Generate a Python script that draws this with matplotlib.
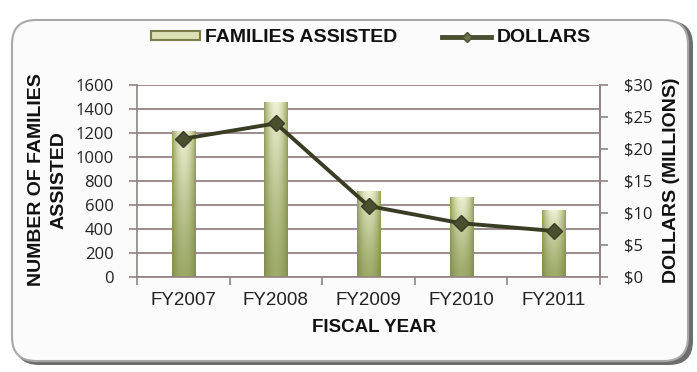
import numpy as np
import matplotlib
matplotlib.use("Agg")
import matplotlib.pyplot as plt
from matplotlib.patches import FancyBboxPatch, Patch
from matplotlib.lines import Line2D
from matplotlib.transforms import IdentityTransform

# ---- data ----
fiscal_years = ["FY2007", "FY2008", "FY2009", "FY2010", "FY2011"]
families_assisted = [1220, 1460, 720, 670, 560]
dollars_millions = [21.6, 24.0, 11.1, 8.4, 7.2]
family_ticks = [0, 200, 400, 600, 800, 1000, 1200, 1400, 1600]
dollar_ticks = [0, 5, 10, 15, 20, 25, 30]
dollar_tick_labels = ["$0", "$5", "$10", "$15", "$20", "$25", "$30"]

W, H = 697, 372
fig = plt.figure(figsize=(W / 100, H / 100), dpi=100)
fig.patch.set_facecolor("white")

# rounded panel with a soft drop shadow (pixel coordinates)
pix = IdentityTransform()
shadow = FancyBboxPatch((15, H - 365), 678, 344,
                        boxstyle="round,pad=0,rounding_size=24",
                        transform=pix, facecolor="#6e6e6e", edgecolor="none",
                        zorder=0)
panel = FancyBboxPatch((12, H - 361), 676, 341,
                       boxstyle="round,pad=0,rounding_size=24",
                       transform=pix, facecolor="#fbfbfb", edgecolor="#a8a8a8",
                       linewidth=1.5, zorder=0.5)
fig.patches.extend([shadow, panel])

ax = fig.add_axes([137 / W, 1 - 277 / H, (600 - 137) / W, (277 - 85) / H])
ax.set_facecolor("white")
ax.set_zorder(1)

grid_col = "#9d8b8b"
spine_col = "#8e8484"
tick_font = "Open Sans"
bold_font = "Liberation Sans"

x = np.arange(len(fiscal_years))
bars = ax.bar(x, families_assisted, width=0.25, color="none", edgecolor="none",
              zorder=2)

# cylinder-like shading for each column
nx, ny = 64, 128
u = np.linspace(0, 1, nx)
v = np.linspace(0, 1, ny)[:, None]          # 0 bottom -> 1 top
prof = np.clip(np.sin(np.pi * u) ** 0.8, 0, 1)[None, :]
top_c = np.array([0.94, 0.95, 0.84])
top_e = np.array([0.58, 0.62, 0.34])
bot_c = np.array([0.62, 0.67, 0.41])
bot_e = np.array([0.50, 0.55, 0.30])
t = (v ** 1.3)[..., None]
center = bot_c * (1 - t) + top_c * t
edge = bot_e * (1 - t) + top_e * t
grad = edge * (1 - prof[..., None]) + center * prof[..., None]
grad = np.flipud(grad)

for rect in bars:
    x0, y0 = rect.get_x(), rect.get_y()
    w, h = rect.get_width(), rect.get_height()
    im = ax.imshow(grad, extent=(x0, x0 + w, y0, y0 + h), aspect="auto",
                   interpolation="bilinear", zorder=2)
    im.set_clip_path(rect)

ax.set_xlim(-0.5, len(fiscal_years) - 0.5)
ax.set_ylim(0, 1600)
ax.set_yticks(family_ticks)
ax.set_yticklabels([str(t) for t in family_ticks], fontfamily=tick_font,
                   fontsize=12, color="#222222")
ax.set_xticks(x)
ax.set_xticklabels(fiscal_years, fontfamily=bold_font, fontsize=13.5,
                   color="#222222")
ax.set_xticks(np.arange(-0.5, len(fiscal_years), 1.0), minor=True)
ax.tick_params(axis="x", which="major", length=0, pad=11)
ax.tick_params(axis="x", which="minor", length=6, color=spine_col, width=1.2,
               direction="out")
ax.tick_params(axis="y", length=6, color=spine_col, width=1.2, pad=11)

ax.set_axisbelow(True)
ax.yaxis.grid(True, color=grid_col, linewidth=1.4)
ax.spines["top"].set_visible(False)
for s in ["left", "bottom", "right"]:
    ax.spines[s].set_color(spine_col)
    ax.spines[s].set_linewidth(1.2)

ax2 = ax.twinx()
ax2.set_ylim(0, 30)
line_col = "#3a3d24"
ax2.plot(x, dollars_millions, color=line_col, linewidth=2.8, marker="D",
         markersize=8, markerfacecolor="#4a4f30", markeredgecolor="#3a3d24",
         zorder=5)
ax2.set_yticks(dollar_ticks)
ax2.set_yticklabels(dollar_tick_labels, fontfamily=tick_font, fontsize=12,
                    color="#222222")
ax2.tick_params(axis="y", length=6, color=spine_col, width=1.2, pad=11)
for s in ["top", "left", "bottom"]:
    ax2.spines[s].set_visible(False)
ax2.spines["right"].set_color(spine_col)
ax2.spines["right"].set_linewidth(1.2)

# axis titles
title_kw = dict(rotation=90, ha="center", va="center", fontfamily=bold_font,
                fontweight="bold", fontsize=14, color="#111111")
fig.text(37 / W, 1 - 180 / H, "NUMBER OF FAMILIES", **title_kw)
fig.text(59 / W, 1 - 180 / H, "ASSISTED", **title_kw)
fig.text(672 / W, 1 - 180 / H, "DOLLARS (MILLIONS)", **title_kw)
fig.text(374 / W, 1 - 328 / H, "FISCAL YEAR", ha="center", va="center",
         fontfamily=bold_font, fontweight="bold", fontsize=13.5,
         color="#111111")

# legend
handles = [
    Patch(facecolor="#dde0b4", edgecolor="#7b7e4c", linewidth=1.5),
    Line2D([0], [0], color="#4a4f30", linewidth=3.5, marker="D",
           markersize=5, markerfacecolor="#6b7048", markeredgecolor="#4a4f30"),
]
leg = fig.legend(handles, ["FAMILIES ASSISTED", "DOLLARS"], loc="center",
                 bbox_to_anchor=(371 / W, 1 - 38 / H), ncol=2, frameon=False,
                 handlelength=2.5, handleheight=0.3, handletextpad=0.3,
                 columnspacing=2.3,
                 prop={"family": bold_font, "weight": "bold", "size": 14})
for t in leg.get_texts():
    t.set_color("#111111")

fig.savefig("out.png", dpi=100)
